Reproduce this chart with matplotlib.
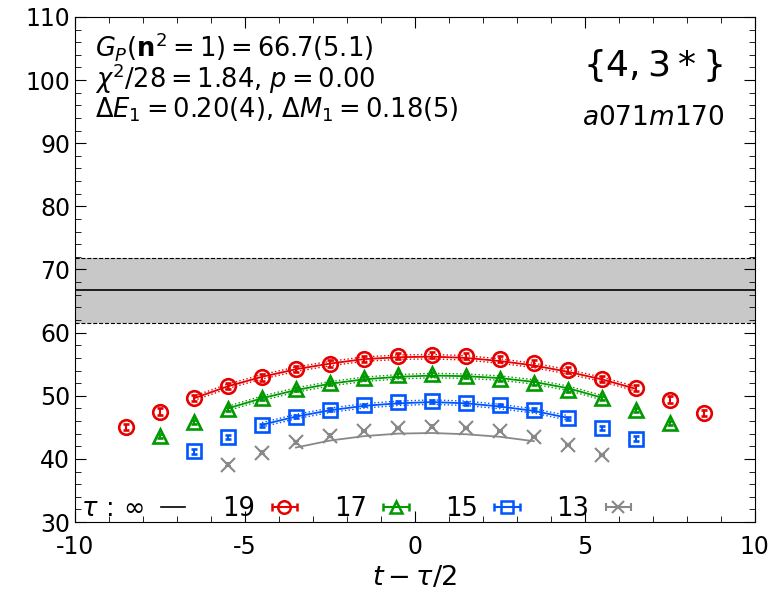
import numpy as np
import matplotlib.pyplot as plt
from matplotlib.ticker import MultipleLocator
from matplotlib.lines import Line2D

plt.rcParams['axes.unicode_minus'] = False

# data points (t - tau/2, value) for each source-sink separation tau
t19 = [-8.5, -7.5, -6.5, -5.5, -4.5, -3.5, -2.5, -1.5, -0.5, 0.5, 1.5, 2.5, 3.5, 4.5, 5.5, 6.5, 7.5, 8.5]
y19 = [45.0, 47.5, 49.6, 51.5, 52.9, 54.2, 55.1, 55.8, 56.3, 56.5, 56.3, 55.8, 55.2, 54.1, 52.7, 51.2, 49.4, 47.3]
e19 = [0.5, 0.5, 0.5, 0.5, 0.5, 0.5, 0.5, 0.5, 0.5, 0.5, 0.5, 0.5, 0.5, 0.5, 0.5, 0.5, 0.5, 0.5]

t17 = [-7.5, -6.5, -5.5, -4.5, -3.5, -2.5, -1.5, -0.5, 0.5, 1.5, 2.5, 3.5, 4.5, 5.5, 6.5, 7.5]
y17 = [43.6, 45.8, 47.9, 49.7, 51.1, 52.0, 52.8, 53.3, 53.5, 53.1, 52.7, 52.0, 50.9, 49.7, 47.7, 45.7]
e17 = [0.3] * 16

t15 = [-6.5, -5.5, -4.5, -3.5, -2.5, -1.5, -0.5, 0.5, 1.5, 2.5, 3.5, 4.5, 5.5, 6.5]
y15 = [41.2, 43.5, 45.3, 46.7, 47.8, 48.5, 49.0, 49.1, 48.8, 48.5, 47.8, 46.4, 44.9, 43.2]
e15 = [0.4, 0.3, 0.2, 0.2, 0.2, 0.2, 0.2, 0.2, 0.2, 0.2, 0.2, 0.2, 0.3, 0.4]

t13 = [-5.5, -4.5, -3.5, -2.5, -1.5, -0.5, 0.5, 1.5, 2.5, 3.5, 4.5, 5.5]
y13 = [39.1, 41.0, 42.6, 43.7, 44.4, 44.9, 45.1, 44.9, 44.4, 43.5, 42.2, 40.6]
e13 = [0.2] * 12

# fit curves
ft19 = [-6.5, -5.5, -4.5, -3.5, -2.5, -1.5, -0.5, 0.5, 1.5, 2.5, 3.5, 4.5, 5.5, 6.5]
fy19 = [49.6, 51.5, 53.0, 54.2, 55.1, 55.8, 56.1, 56.2, 56.0, 55.5, 54.8, 53.8, 52.6, 51.1]
ft17 = [-5.5, -4.5, -3.5, -2.5, -1.5, -0.5, 0.5, 1.5, 2.5, 3.5, 4.5, 5.5]
fy17 = [48.0, 49.6, 50.9, 51.9, 52.6, 53.0, 53.2, 53.1, 52.8, 52.2, 51.2, 49.7]
ft15 = [-4.5, -3.5, -2.5, -1.5, -0.5, 0.5, 1.5, 2.5, 3.5, 4.5]
fy15 = [45.4, 46.7, 47.7, 48.4, 48.8, 49.0, 48.8, 48.3, 47.6, 46.5]
ft13 = [-3.5, -2.5, -1.5, -0.5, 0.5, 1.5, 2.5, 3.5]
fy13 = [41.8, 42.9, 43.6, 44.0, 44.1, 43.9, 43.5, 42.8]
band = 0.35

gp, gp_err = 66.7, 5.1

red = '#e60000'
green = '#009900'
blue = '#0055ff'
gray = '#888888'

fig = plt.figure(figsize=(7.77, 5.94), dpi=100)
ax = fig.add_axes([0.0965, 0.1212, 0.875, 0.8502])

# plateau result
ax.axhspan(gp - gp_err, gp + gp_err, color='#c8c8c8', lw=0, zorder=0)
ax.axhline(gp, color='black', lw=1.2, zorder=1)
ax.axhline(gp - gp_err, color='black', lw=0.8, ls='--', zorder=1)
ax.axhline(gp + gp_err, color='black', lw=0.8, ls='--', zorder=1)

for ft, fy, c, dotted in [(ft19, fy19, red, True), (ft17, fy17, green, True),
                          (ft15, fy15, blue, True), (ft13, fy13, gray, False)]:
    fy = np.array(fy)
    ax.plot(ft, fy, color=c, lw=1.3, zorder=2)
    if dotted:
        ax.plot(ft, fy + band, color=c, lw=1.0, ls=':', zorder=2)
        ax.plot(ft, fy - band, color=c, lw=1.0, ls=':', zorder=2)

ax.errorbar(t19, y19, yerr=e19, fmt='o', ms=10.5, mfc='none', mec=red, mew=1.9,
            color=red, elinewidth=1.5, capsize=2.5, zorder=3)
ax.errorbar(t17, y17, yerr=e17, fmt='^', ms=10.5, mfc='none', mec=green, mew=1.9,
            color=green, elinewidth=1.5, capsize=2.5, zorder=3)
ax.errorbar(t15, y15, yerr=e15, fmt='s', ms=10.5, mfc='none', mec=blue, mew=1.9,
            color=blue, elinewidth=1.5, capsize=2.5, zorder=3)
ax.errorbar(t13, y13, yerr=e13, fmt='x', ms=10.5, mec=gray, mew=1.5,
            color=gray, elinewidth=1.5, capsize=2.5, zorder=3)

# legend proxies with horizontal error bars (gnuplot-like)
h_inf = Line2D([], [], color='black', lw=1.2)
h19 = ax.errorbar([np.nan], [np.nan], xerr=[1], fmt='o', ms=9, mfc='none', mec=red, mew=1.8,
                  color=red, elinewidth=1.5, capsize=3)
h17 = ax.errorbar([np.nan], [np.nan], xerr=[1], fmt='^', ms=9, mfc='none', mec=green, mew=1.8,
                  color=green, elinewidth=1.5, capsize=3)
h15 = ax.errorbar([np.nan], [np.nan], xerr=[1], fmt='s', ms=9, mfc='none', mec=blue, mew=1.8,
                  color=blue, elinewidth=1.5, capsize=3)
h13 = ax.errorbar([np.nan], [np.nan], xerr=[1], fmt='x', ms=9, mec=gray, mew=1.5,
                  color=gray, elinewidth=1.5, capsize=3)
ax.legend([h_inf, h19, h17, h15, h13], [r'$\tau\,:\,\infty$', '19', '17', '15', '13'],
          loc='lower left', ncol=5, frameon=False, markerfirst=False, fontsize=18.5,
          handlelength=0.95, handletextpad=0.65, columnspacing=1.45,
          borderaxespad=0.1, bbox_to_anchor=(-0.01, -0.026))

ax.text(0.03, 0.974, r'$G_P(\mathbf{n}^2=1) = 66.7(5.1)$' + '\n' +
        r'$\chi^2/28 = 1.84$, $p=0.00$' + '\n' +
        r'$\Delta E_1 = 0.20(4)$, $\Delta M_1 = 0.18(5)$',
        transform=ax.transAxes, ha='left', va='top', fontsize=18.5, linespacing=0.95)
ax.text(0.953, 0.903, r'$\{4, 3*\}$', transform=ax.transAxes, ha='right', va='center', fontsize=26)
ax.text(0.956, 0.80, r'$a071m170$', transform=ax.transAxes, ha='right', va='center', fontsize=19)

ax.set_xlim(-10, 10)
ax.set_ylim(30, 110)
ax.xaxis.set_major_locator(MultipleLocator(5))
ax.xaxis.set_minor_locator(MultipleLocator(1))
ax.yaxis.set_major_locator(MultipleLocator(10))
ax.yaxis.set_minor_locator(MultipleLocator(2))
ax.tick_params(which='both', direction='in', top=True, right=True, labelsize=17)
ax.tick_params(which='major', length=8)
ax.tick_params(which='minor', length=4)
ax.tick_params(axis='x', pad=9)
ax.set_xlabel(r'$t-\tau/2$', fontsize=19.5, labelpad=5)

plt.savefig('out.png', dpi=100)
